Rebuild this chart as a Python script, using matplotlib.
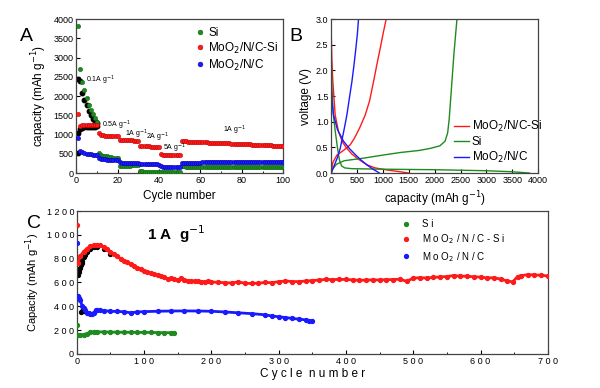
import matplotlib
matplotlib.use("Agg")
import matplotlib.pyplot as plt
from matplotlib.ticker import MultipleLocator, FuncFormatter

plt.rcParams["font.family"] = ["Liberation Sans", "DejaVu Sans"]

GREEN = "#1f8a1f"
RED = "#ff1a1a"
BLUE = "#1a1aff"

# ---- panel A: rate test ----
cycles_a = list(range(1, 101))
si_a = [3830, 2700, 2370, 2150, 1950, 1780, 1650, 1530, 1420, 1320,
        520, 470, 450, 440, 430, 420, 410, 400, 390, 380,
        180, 185, 190, 192, 195, 195, 197, 198, 200, 200,
        45, 42, 40, 40, 40, 38, 38, 38, 37, 37,
        40, 38, 38, 37, 37, 36, 36, 36, 35, 35,
        175, 172, 170, 170, 168, 168, 167, 167, 166, 166,
        165, 165, 165, 164, 164, 164, 163, 163, 163, 162,
        162, 162, 162, 161, 161, 161, 160, 160, 160, 160,
        160, 159, 159, 159, 158, 158, 158, 158, 157, 157,
        157, 157, 156, 156, 156, 156, 155, 155, 155, 155]
mix_a = [1540, 1230, 1235, 1240, 1240, 1240, 1245, 1245, 1245, 1250,
         1030, 990, 980, 975, 975, 970, 970, 965, 965, 960,
         870, 860, 855, 855, 850, 850, 850, 845, 845, 845,
         710, 700, 695, 690, 690, 685, 685, 680, 680, 680,
         490, 475, 470, 468, 466, 465, 465, 463, 462, 460,
         830, 825, 822, 818, 815, 812, 810, 807, 805, 802,
         800, 797, 795, 792, 790, 788, 785, 782, 780, 778,
         775, 772, 770, 768, 765, 762, 760, 758, 755, 752,
         750, 748, 745, 742, 740, 737, 735, 732, 730, 727,
         725, 722, 720, 717, 714, 711, 708, 705, 700, 690]
moo2_a = [900, 560, 540, 520, 505, 495, 485, 478, 470, 465,
          390, 370, 360, 355, 350, 348, 345, 343, 340, 338,
          280, 270, 268, 265, 265, 262, 262, 260, 260, 258,
          235, 230, 228, 226, 225, 224, 223, 222, 222, 221,
          175, 170, 168, 167, 166, 165, 165, 164, 164, 163,
          250, 262, 266, 268, 270, 271, 272, 272, 273, 273,
          274, 274, 275, 275, 276, 276, 277, 277, 278, 278,
          279, 279, 280, 280, 281, 281, 282, 282, 283, 283,
          284, 284, 285, 285, 286, 286, 287, 287, 288, 288,
          288, 289, 289, 289, 290, 290, 290, 291, 291, 291]
black_si_cycles_a = [1, 2, 3, 4, 5, 6, 7, 8, 9, 10]
black_si_a = [2430, 2400, 2080, 1900, 1780, 1620, 1500, 1400, 1340, 1290]
black_mix_cycles_a = [1, 2, 3, 4, 5, 6, 7, 8, 9, 10, 1]
black_mix_a = [1050, 1150, 1180, 1190, 1195, 1200, 1200, 1205, 1205, 1210, 510]

rate_labels = ["0.1A g$^{-1}$", "0.5A g$^{-1}$", "1A g$^{-1}$",
               "2A g$^{-1}$", "5A g$^{-1}$", "1A g$^{-1}$"]
rate_label_x = [4.8, 12.4, 23.4, 33.6, 42.0, 70.8]
rate_label_y = [2415, 1250, 1000, 930, 640, 1117]

# ---- panel B: voltage profiles ----
mix_dis_cap = [0, 13, 32, 77, 142, 220, 303, 400, 497, 600, 690, 850, 1075, 1300, 1500]
mix_dis_v = [2.75, 2.2, 1.78, 1.13, 0.80, 0.60, 0.48, 0.37, 0.29, 0.22, 0.16, 0.10, 0.06, 0.03, 0.0]
mix_chg_cap = [0, 30, 110, 250, 367, 450, 550, 657, 740, 818, 880, 947, 1010, 1063]
mix_chg_v = [0.0, 0.2, 0.35, 0.45, 0.55, 0.68, 0.88, 1.13, 1.4, 1.78, 2.1, 2.43, 2.75, 3.0]
si_dis_cap = [0, 15, 40, 80, 120, 160, 200, 260, 400, 1000, 2000, 3000, 3500, 3830]
si_dis_v = [2.3, 1.6, 1.15, 0.8, 0.5, 0.25, 0.14, 0.1, 0.085, 0.075, 0.065, 0.045, 0.025, 0.0]
si_chg_cap = [0, 30, 100, 250, 625, 1000, 1335, 1700, 1913, 2100, 2200, 2250, 2280, 2320, 2370, 2430]
si_chg_v = [0.0, 0.08, 0.17, 0.24, 0.29, 0.35, 0.40, 0.44, 0.48, 0.53, 0.62, 0.78, 1.05, 1.6, 2.3, 3.0]
moo2_dis_cap = [0, 15, 45, 120, 238, 350, 464, 580, 690, 800, 883, 930]
moo2_dis_v = [1.75, 1.4, 1.13, 0.85, 0.62, 0.48, 0.36, 0.25, 0.16, 0.08, 0.03, 0.0]
moo2_chg_cap = [0, 60, 120, 174, 240, 303, 350, 400, 440, 477, 505, 528]
moo2_chg_v = [0.0, 0.15, 0.3, 0.48, 0.8, 1.13, 1.45, 1.78, 2.1, 2.43, 2.7, 3.0]

# ---- panel C: long cycling at 1 A/g ----
first_cycle_c = [1085, 935, 240]
mix_c_cycles = [2, 5, 10, 15, 20, 25, 30, 35, 40, 45, 50, 55, 60, 65, 70, 75, 80, 85, 90, 95,
                100, 105, 110, 115, 120, 125, 130, 135, 140, 145, 150, 155, 160, 165, 170, 175,
                180, 185, 190, 195, 200, 210, 220, 230, 240, 250, 260, 270, 280, 290, 300,
                310, 320, 330, 340, 350, 360, 370, 380, 390, 400, 410, 420, 430, 440, 450,
                460, 470, 480, 490, 500, 510, 520, 530, 540, 550, 560, 570, 580, 590, 600,
                610, 620, 630, 640, 648, 655, 660, 670, 680, 690, 700]
mix_c = [765, 820, 860, 885, 905, 915, 918, 912, 898, 880, 860, 840, 820, 800, 783, 768,
         752, 738, 725, 712, 700, 690, 680, 671, 663, 655, 648, 632, 636, 627, 622, 634,
         620, 616, 613, 611, 609, 607, 606, 611, 604, 601, 598, 596, 605, 593, 592, 594,
         600, 598, 607, 612, 608, 607, 612, 616, 620, 626, 624, 626, 625, 622, 618, 620,
         622, 621, 624, 624, 628, 610, 636, 640, 637, 643, 646, 650, 658, 653, 652, 648,
         645, 638, 640, 628, 612, 605, 650, 657, 665, 664, 660, 655]
moo2_c_cycles = [2, 3, 5, 8, 10, 12, 15, 18, 20, 22, 25, 28, 30, 35, 40, 50, 60, 70, 80,
                 90, 100, 120, 140, 160, 180, 200, 220, 240, 260, 280, 290, 300, 310,
                 320, 330, 340, 345, 350]
moo2_c = [490, 470, 450, 405, 385, 365, 345, 340, 336, 332, 345, 365, 368, 366, 363, 358,
          356, 354, 345, 352, 355, 358, 360, 361, 360, 358, 352, 345, 338, 328, 318,
          312, 305, 298, 292, 286, 272, 280]
si_c_cycles = [2, 5, 10, 15, 20, 25, 30, 40, 50, 60, 70, 80, 90, 100, 110, 120, 130, 140, 145]
si_c = [155, 158, 162, 170, 182, 186, 185, 184, 183, 182, 182, 181, 181, 180, 180, 179, 178, 178, 177]
black_c_cycles = [2, 3, 4, 5, 6, 7, 8, 10, 12, 15, 20, 25, 30, 40, 50, 6, 8, 10]
black_c = [660, 690, 705, 725, 745, 760, 780, 810, 830, 858, 885, 895, 898, 878, 840, 350, 362, 356]


def spaced(text):
    return " ".join(text)


fig = plt.figure(figsize=(6.0, 3.88), dpi=100)
fig.patch.set_facecolor("white")

# panel A
ax_a = fig.add_axes([0.127, 0.554, 0.345, 0.397])
ms = 3.2
ax_a.plot(black_si_cycles_a, black_si_a, "o", color="black", ms=ms, zorder=2)
ax_a.plot(black_mix_cycles_a, black_mix_a, "o", color="black", ms=ms, zorder=2)
ax_a.plot(cycles_a, si_a, "o", color=GREEN, ms=ms, mec="#0d5c0d", mew=0.3, label="Si", zorder=3)
ax_a.plot(cycles_a, mix_a, "o", color=RED, ms=ms, mec="#b00000", mew=0.3,
          label="MoO$_2$/N/C-Si", zorder=3)
ax_a.plot(cycles_a, moo2_a, "o", color=BLUE, ms=ms, mec="#0000a0", mew=0.3,
          label="MoO$_2$/N/C", zorder=4)
for lbl, x, y in zip(rate_labels, rate_label_x, rate_label_y):
    ax_a.text(x, y, lbl, fontsize=5.0, ha="left", va="center")
ax_a.set_xlim(0, 100)
ax_a.set_ylim(0, 4000)
ax_a.xaxis.set_major_locator(MultipleLocator(20))
ax_a.xaxis.set_minor_locator(MultipleLocator(10))
ax_a.yaxis.set_major_locator(MultipleLocator(500))
ax_a.set_xlabel("Cycle number", fontsize=8.5, labelpad=4)
ax_a.set_ylabel("capacity (mAh g$^{-1}$)", fontsize=8.5, labelpad=3)
ax_a.legend(loc="upper left", bbox_to_anchor=(0.54, 0.98), fontsize=8.5, frameon=False,
            handletextpad=0.1, markerscale=1.1, borderaxespad=0.0, labelspacing=0.15,
            handlelength=1.2)
ax_a.text(-0.27, 0.86, "A", transform=ax_a.transAxes, fontsize=14, ha="left")

# panel B
ax_b = fig.add_axes([0.552, 0.554, 0.345, 0.397])
ax_b.plot(mix_dis_cap, mix_dis_v, color=RED, lw=1.0, label="MoO$_2$/N/C-Si")
ax_b.plot(mix_chg_cap, mix_chg_v, color=RED, lw=1.0)
ax_b.plot(si_dis_cap, si_dis_v, color=GREEN, lw=1.0, label="Si")
ax_b.plot(si_chg_cap, si_chg_v, color=GREEN, lw=1.0)
ax_b.plot(moo2_dis_cap, moo2_dis_v, color=BLUE, lw=1.0, label="MoO$_2$/N/C")
ax_b.plot(moo2_chg_cap, moo2_chg_v, color=BLUE, lw=1.0)
ax_b.set_xlim(0, 4000)
ax_b.set_ylim(0, 3.0)
ax_b.xaxis.set_major_locator(MultipleLocator(500))
ax_b.yaxis.set_major_locator(MultipleLocator(0.5))
ax_b.yaxis.set_major_formatter(FuncFormatter(lambda v, p: f"{v:.1f}"))
ax_b.set_xlabel("capacity (mAh g$^{-1}$)", fontsize=8.5, labelpad=3)
ax_b.set_ylabel("voltage (V)", fontsize=8.5, labelpad=3)
ax_b.legend(loc="upper left", bbox_to_anchor=(0.57, 0.38), fontsize=8.5, frameon=False,
            handlelength=1.3, handletextpad=0.2, labelspacing=0.15, borderaxespad=0.0)
ax_b.text(-0.2, 0.86, "B", transform=ax_b.transAxes, fontsize=14, ha="left")

# panel C
ax_c = fig.add_axes([0.128, 0.088, 0.785, 0.368])
msc = 2.8
ax_c.plot(black_c_cycles, black_c, "o", color="black", ms=msc, zorder=2)
ax_c.plot([1], [first_cycle_c[2]], "o", color=GREEN, ms=msc, zorder=3)
ax_c.plot(si_c_cycles, si_c, "o-", color=GREEN, ms=msc, lw=2.0, zorder=3)
ax_c.plot([1], [first_cycle_c[0]], "o", color=RED, ms=msc, zorder=3)
ax_c.plot(mix_c_cycles, mix_c, "o-", color=RED, ms=msc, lw=2.0, zorder=3)
ax_c.plot([1], [first_cycle_c[1]], "o", color=BLUE, ms=msc, zorder=3)
ax_c.plot(moo2_c_cycles, moo2_c, "o-", color=BLUE, ms=msc, lw=2.0, zorder=3)
ax_c.plot([], [], "o", color=GREEN, ms=msc, label=spaced("Si"))
ax_c.plot([], [], "o", color=RED, ms=msc, label="M o O$_2$ / N / C - S i")
ax_c.plot([], [], "o", color=BLUE, ms=msc, label="M o O$_2$ / N / C")
ax_c.text(104, 1010, "1 A  g$^{-1}$", fontsize=11, fontweight="bold", ha="left", va="center")
ax_c.set_xlim(0, 700)
ax_c.set_ylim(0, 1200)
ax_c.xaxis.set_major_locator(MultipleLocator(100))
ax_c.xaxis.set_minor_locator(MultipleLocator(50))
ax_c.yaxis.set_major_locator(MultipleLocator(200))
ax_c.xaxis.set_major_formatter(FuncFormatter(lambda v, p: spaced(str(int(v)))))
ax_c.yaxis.set_major_formatter(FuncFormatter(lambda v, p: spaced(str(int(v)))))
ax_c.set_xlabel(spaced("Cycle") + "  " + spaced("number"), fontsize=8.5, labelpad=2)
ax_c.set_ylabel("Capacity (mAh g$^{-1}$)", fontsize=8, labelpad=3)
ax_c.legend(loc="upper left", bbox_to_anchor=(0.68, 0.97), fontsize=7, frameon=False,
            handletextpad=1.2, labelspacing=0.35, borderaxespad=0.0, handlelength=1.0)
ax_c.text(-0.105, 0.88, "C", transform=ax_c.transAxes, fontsize=14, ha="left")

for ax in (ax_a, ax_b, ax_c):
    ax.tick_params(direction="in", labelsize=6.5, length=3, width=0.8, pad=2)
    ax.tick_params(which="minor", direction="in", length=1.8, width=0.6)
    for spine in ax.spines.values():
        spine.set_linewidth(0.9)
        spine.set_color("#444444")

fig.savefig("out.png", dpi=100, facecolor="white")
plt.close(fig)
